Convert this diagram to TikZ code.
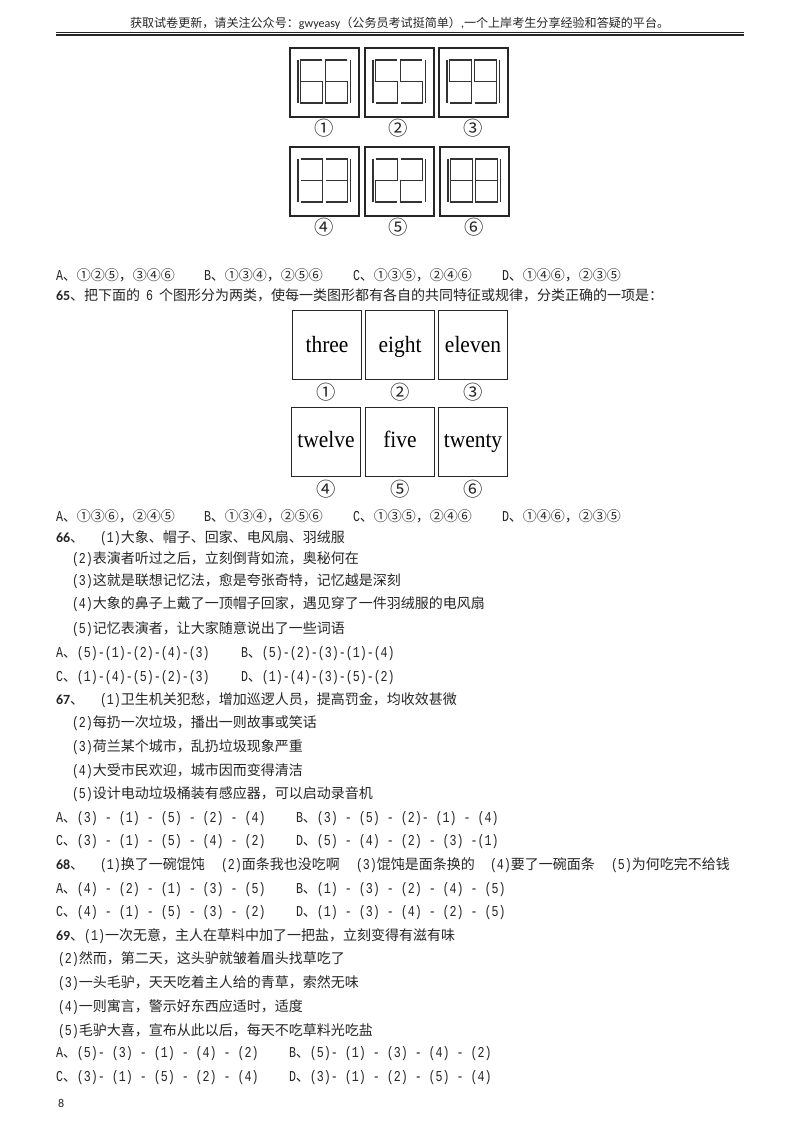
\documentclass[tikz,border=0pt]{standalone}
\usepackage{fontspec}
\setmainfont{Noto Sans CJK SC}[BoldFont={Noto Sans CJK SC Bold}]
\newfontfamily\latf[Scale=1.08,FakeStretch=0.77]{Liberation Mono}
\newfontfamily\carl{Carlito}
\newfontfamily\tnr[FakeStretch=0.92]{Liberation Serif}
\newcommand\m[1]{{\latf #1}}
\newcommand\qn[1]{{\carl\bfseries #1}}
\newcommand\dsix{\draw[seg] (21.6,0)--(0,0)--(0,43)--(21.6,43)--(21.6,21.5)--(0,21.5);}
\newcommand\dfive{\draw[seg] (21.6,0)--(0,0)--(0,21.5)--(21.6,21.5)--(21.6,43)--(0,43);}
\newcommand\dnine{\draw[seg] (21.6,21.5)--(0,21.5)--(0,0)--(21.6,0)--(21.6,43)--(0,43);}
\newcommand\dthree{\draw[seg] (0,0)--(21.6,0)--(21.6,43)--(0,43) (0,21.5)--(21.6,21.5);}
\newcommand\dtwo{\draw[seg] (0,0)--(21.6,0)--(21.6,21.5)--(0,21.5)--(0,43)--(21.6,43);}
\newcommand\deight{\draw[seg] (0,0) rectangle (21.6,43) (0,21.5)--(21.6,21.5);}
\newcommand\figdigits[3]{%
  \begin{scope}[shift={(#1,#2)}]
    \draw[seg] (8,11.5)--(8,55) (60.3,11.5)--(60.3,55);
    \begin{scope}[shift={(10.7,12)}]#3\end{scope}
    \begin{scope}[shift={(35.7,12)}]#3\end{scope}
  \end{scope}}
\tikzset{
  x=0.75pt,y=-0.75pt,
  txt/.style={anchor=base west,inner sep=0pt,outer sep=0pt,text=black!85,font=\fontsize{10.5pt}{12pt}\selectfont},
  hdr/.style={anchor=base west,inner sep=0pt,outer sep=0pt,text=black!85,font=\fontsize{9.05pt}{10pt}\selectfont},
  figbox/.style={draw=black!85,line width=0.85pt,minimum size=51.75pt,inner sep=0pt,outer sep=0pt},
  wordbox/.style={figbox,line width=1.1pt,text=black,text height=12pt,text depth=4pt,font=\tnr\fontsize{17.5pt}{19pt}\selectfont},
  wordlow/.style={wordbox,text depth=1pt},
  circ/.style={inner sep=0pt,text=black!85,font=\fontsize{14.5pt}{16pt}\selectfont},
  seg/.style={draw=black!80,line width=0.8pt},
}
\begin{document}
\begin{tikzpicture}
\useasboundingbox[fill=white] (0,0) rectangle (800,1132);
% header
\node[hdr] (h) at (130,27) {获取试卷更新，请关注公众号：{\carl gwyeasy}（公务员考试挺简单）{\carl ,}一个上岸考生分享经验和答疑的平台。};
\coordinate (rl) at (56,32); \coordinate (rr) at (744,32);
\coordinate (rl2) at (56,35); \coordinate (rr2) at (744,35);
\draw[black!85,line width=0.5pt] (rl)--(rr);
\draw[black!85,line width=1.5pt] (rl2)--(rr2);
% figure 64
\node[figbox] (a1) at (324.5,82.5) {};
\node[figbox] (a2) at (399.5,82.5) {};
\node[figbox] (a3) at (473.5,82.5) {};
\node[figbox] (a4) at (324.5,181.5) {};
\node[figbox] (a5) at (399.5,181.5) {};
\node[figbox] (a6) at (474.5,181.5) {};
\figdigits{290}{48}{\dsix}
\figdigits{365}{48}{\dfive}
\figdigits{439}{48}{\dnine}
\figdigits{290}{147}{\dthree}
\figdigits{365}{147}{\dtwo}
\figdigits{440}{147}{\deight}
\node[circ] (la1) at (324,128) {①};
\node[circ] (la2) at (398,128) {②};
\node[circ] (la3) at (473,128) {③};
\node[circ] (la4) at (324,227) {④};
\node[circ] (la5) at (398,227) {⑤};
\node[circ] (la6) at (474,227) {⑥};
\node[txt] (o1a) at (56,280) {\m{A}、①②⑤，③④⑥};
\node[txt] (o1b) at (204,280) {\m{B}、①③④，②⑤⑥};
\node[txt] (o1c) at (353,280) {\m{C}、①③⑤，②④⑥};
\node[txt] (o1d) at (502,280) {\m{D}、①④⑥，②③⑤};
% 65
\node[txt] (q65) at (56,300) {\qn{65}、把下面的\hspace{4.5pt}\m{6}\hspace{4.5pt}个图形分为两类，使每一类图形都有各自的共同特征或规律，分类正确的一项是：};
\node[wordlow] (w1) at (327,345) {three};
\node[wordlow] (w2) at (400,345) {eight};
\node[wordlow] (w3) at (473,345) {eleven};
\node[wordbox] (w4) at (326,442) {twelve};
\node[wordbox] (w5) at (400,442) {five};
\node[wordbox] (w6) at (473,442) {twenty};
\node[circ] (lb1) at (326,392) {①};
\node[circ] (lb2) at (400,392) {②};
\node[circ] (lb3) at (473,392) {③};
\node[circ] (lb4) at (326,489) {④};
\node[circ] (lb5) at (400,489) {⑤};
\node[circ] (lb6) at (473,489) {⑥};
\node[txt] (o2a) at (56,521) {\m{A}、①③⑥，②④⑤};
\node[txt] (o2b) at (204,521) {\m{B}、①③④，②⑤⑥};
\node[txt] (o2c) at (353,521) {\m{C}、①③⑤，②④⑥};
\node[txt] (o2d) at (502,521) {\m{D}、①④⑥，②③⑤};
% 66
\node[txt] (q66) at (56,542) {\qn{66}、};
\node[txt] (q66a) at (100,542) {\m{(1)}大象、帽子、回家、电风扇、羽绒服};
\node[txt] (q66b) at (72,563) {\m{(2)}表演者听过之后，立刻倒背如流，奥秘何在};
\node[txt] (q66c) at (72,585) {\m{(3)}这就是联想记忆法，愈是夸张奇特，记忆越是深刻};
\node[txt] (q66d) at (72,608) {\m{(4)}大象的鼻子上戴了一顶帽子回家，遇见穿了一件羽绒服的电风扇};
\node[txt] (q66e) at (72,633) {\m{(5)}记忆表演者，让大家随意说出了一些词语};
\node[txt] (o3a) at (56,657) {\m{A}、\m{(5)-(1)-(2)-(4)-(3)}};
\node[txt] (o3b) at (241,657) {\m{B}、\m{(5)-(2)-(3)-(1)-(4)}};
\node[txt] (o3c) at (56,681) {\m{C}、\m{(1)-(4)-(5)-(2)-(3)}};
\node[txt] (o3d) at (241,681) {\m{D}、\m{(1)-(4)-(3)-(5)-(2)}};
% 67
\node[txt] (q67) at (56,704) {\qn{67}、};
\node[txt] (q67a) at (100,704) {\m{(1)}卫生机关犯愁，增加巡逻人员，提高罚金，均收效甚微};
\node[txt] (q67b) at (72,727) {\m{(2)}每扔一次垃圾，播出一则故事或笑话};
\node[txt] (q67c) at (72,751) {\m{(3)}荷兰某个城市，乱扔垃圾现象严重};
\node[txt] (q67d) at (72,775) {\m{(4)}大受市民欢迎，城市因而变得清洁};
\node[txt] (q67e) at (72,798) {\m{(5)}设计电动垃圾桶装有感应器，可以启动录音机};
\node[txt] (o4a) at (56,822) {\m{A}、\m{(3) - (1) - (5) - (2) - (4)}};
\node[txt] (o4b) at (296,822) {\m{B}、\m{(3) - (5) - (2)- (1) - (4)}};
\node[txt] (o4c) at (56,845) {\m{C}、\m{(3) - (1) - (5) - (4) - (2)}};
\node[txt] (o4d) at (296,845) {\m{D}、\m{(5) - (4) - (2) - (3) -(1)}};
% 68
\node[txt] (q68) at (56,869) {\qn{68}、};
\node[txt] (q68a) at (100,869) {\m{(1)}换了一碗馄饨};
\node[txt] (q68b) at (221,869) {\m{(2)}面条我也没吃啊};
\node[txt] (q68c) at (356,869) {\m{(3)}馄饨是面条换的};
\node[txt] (q68d) at (490,869) {\m{(4)}要了一碗面条};
\node[txt] (q68e) at (611,869) {\m{(5)}为何吃完不给钱};
\node[txt] (o5a) at (56,893) {\m{A}、\m{(4) - (2) - (1) - (3) - (5)}};
\node[txt] (o5b) at (296,893) {\m{B}、\m{(1) - (3) - (2) - (4) - (5)}};
\node[txt] (o5c) at (56,916) {\m{C}、\m{(4) - (1) - (5) - (3) - (2)}};
\node[txt] (o5d) at (296,916) {\m{D}、\m{(1) - (3) - (4) - (2) - (5)}};
% 69
\node[txt] (q69) at (56,940) {\qn{69}、\m{(1)}一次无意，主人在草料中加了一把盐，立刻变得有滋有味};
\node[txt] (q69b) at (58,963) {\m{(2)}然而，第二天，这头驴就皱着眉头找草吃了};
\node[txt] (q69c) at (58,987) {\m{(3)}一头毛驴，天天吃着主人给的青草，索然无味};
\node[txt] (q69d) at (58,1011) {\m{(4)}一则寓言，警示好东西应适时，适度};
\node[txt] (q69e) at (58,1035) {\m{(5)}毛驴大喜，宣布从此以后，每天不吃草料光吃盐};
\node[txt] (o6a) at (56,1057) {\m{A}、\m{(5)- (3) - (1) - (4) - (2)}};
\node[txt] (o6b) at (289,1057) {\m{B}、\m{(5)- (1) - (3) - (4) - (2)}};
\node[txt] (o6c) at (56,1081) {\m{C}、\m{(3)- (1) - (5) - (2) - (4)}};
\node[txt] (o6d) at (289,1081) {\m{D}、\m{(3)- (1) - (2) - (5) - (4)}};
\node[txt,font=\carl\fontsize{9pt}{10pt}\selectfont] (pg) at (58,1107) {8};
\end{tikzpicture}
\end{document}
